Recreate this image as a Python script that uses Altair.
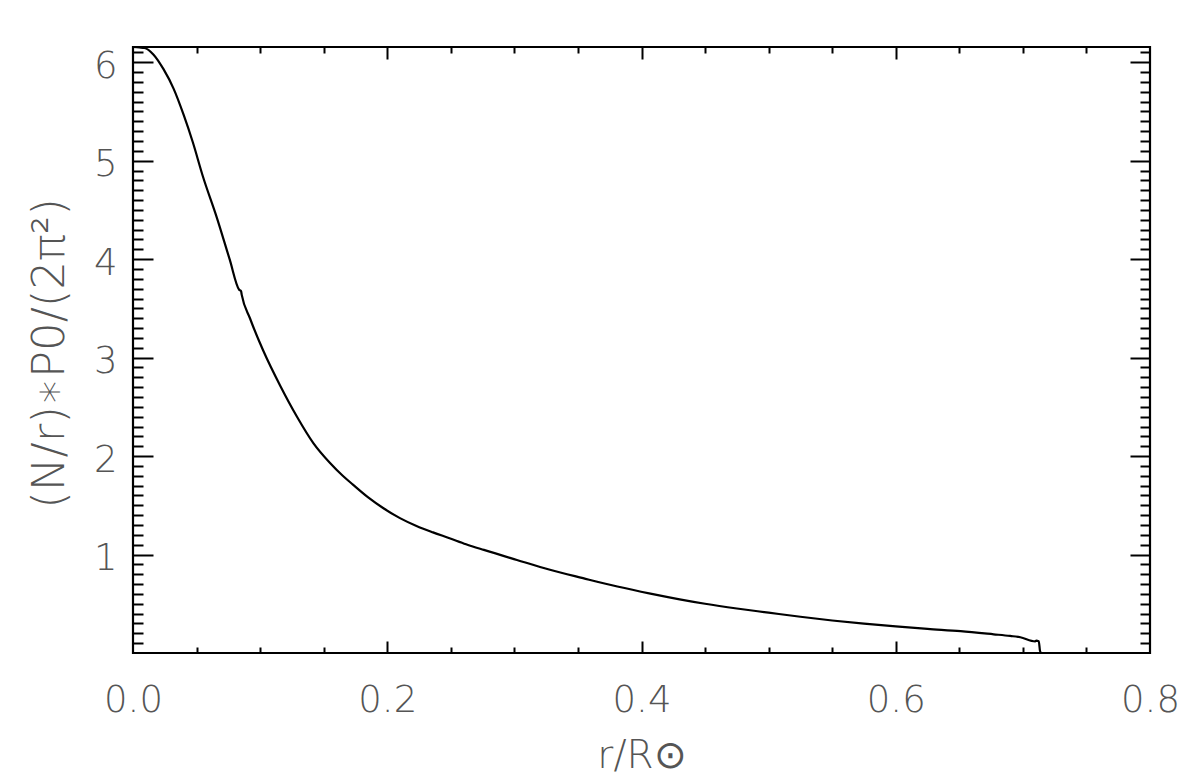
import altair as alt
import pandas as pd

# Curve
r_vals = [0.000, 0.005, 0.009, 0.016, 0.024, 0.032, 0.040, 0.047, 0.055,
          0.066, 0.076, 0.0835, 0.0850, 0.0855, 0.092, 0.1025, 0.116, 0.129,
          0.142, 0.155, 0.165, 0.173, 0.185, 0.197, 0.210, 0.223, 0.236, 0.249,
          0.262, 0.276, 0.302, 0.328, 0.354, 0.381, 0.407, 0.430, 0.450, 0.475,
          0.500, 0.525, 0.550, 0.575, 0.600, 0.625, 0.651, 0.677, 0.690, 0.698,
          0.7097, 0.7105, 0.7125, 0.7135, 0.7145, 0.716]
f_vals = [6.155, 6.150, 6.145, 6.08, 5.93, 5.73, 5.46, 5.19, 4.84,
          4.42, 4.00, 3.69, 3.675, 3.64, 3.40, 3.07, 2.71, 2.40,
          2.13, 1.93, 1.80, 1.71, 1.58, 1.47, 1.37, 1.29, 1.225, 1.166,
          1.105, 1.047, 0.945, 0.845, 0.760, 0.675, 0.603, 0.545, 0.500, 0.452,
          0.410, 0.368, 0.330, 0.298, 0.270, 0.245, 0.222, 0.190, 0.173, 0.160,
          0.118, 0.125, 0.12, 0.02, 0.0, 0.0]

x_major_labels = [0.0, 0.2, 0.4, 0.6, 0.8]
x_major_ticks = [0.2, 0.4, 0.6]
x_minor_ticks = [0.05, 0.10, 0.15, 0.25, 0.30, 0.35, 0.45, 0.50, 0.55, 0.65, 0.70, 0.75]
y_major = [1, 2, 3, 4, 5, 6]
y_minor = [round(0.1 * i, 1) for i in range(1, 62) if i % 10 != 0]

X_DOMAIN = [0, 0.8]
Y_DOMAIN = [0, 6.155]
W, H = 1017, 606
FONT = "DejaVu Sans"
TXT = "#555555"

df = pd.DataFrame({"r": r_vals, "f": f_vals})

xs = alt.Scale(domain=X_DOMAIN, nice=False, zero=False)
ys = alt.Scale(domain=Y_DOMAIN, nice=False, zero=False)


def tick_axis(orient, offset, values, size):
    return alt.Axis(orient=orient, offset=offset, values=values, tickSize=size,
                    tickWidth=2, tickColor="black", labels=False, domain=False,
                    grid=False, title="")


main = alt.Chart(df).mark_line(color="black", strokeWidth=2.2, interpolate="monotone").encode(
    x=alt.X("r:Q", scale=xs, axis=alt.Axis(
        orient="bottom", values=x_major_labels, format=".1f", ticks=False, tickSize=0,
        domain=False, grid=False, labelFlush=False, labelFont=FONT, labelFontSize=37,
        labelFontWeight=200, labelColor=TXT, labelPadding=29,
        title="r/R⊙", titleFont=FONT, titleFontSize=39, titleFontWeight=200,
        titleColor=TXT, titleBaseline="alphabetic", titleY=114)),
    y=alt.Y("f:Q", scale=ys, axis=alt.Axis(
        orient="left", values=y_major, format="d", ticks=False, tickSize=0,
        domain=False, grid=False, labelFlush=False, labelFont=FONT, labelFontSize=37,
        labelFontWeight=200, labelColor=TXT, labelPadding=16, labelOffset=4,
        title="(N/r)∗P0/(2π²)", titleFont=FONT, titleFontSize=45, titleFontWeight=200,
        titleColor=TXT, titleAngle=270, titleBaseline="middle", titleAlign="center",
        titleX=-84, titleY=306)),
)


def ghost(xa, ya):
    return alt.Chart(df).mark_line(opacity=0).encode(
        x=alt.X("r:Q", scale=xs, axis=xa),
        y=alt.Y("f:Q", scale=ys, axis=ya),
    )


l2 = ghost(tick_axis("top", -H, x_major_ticks, 12), tick_axis("right", -W, y_major, 20))
l3 = ghost(tick_axis("top", -H, x_minor_ticks, 6), tick_axis("right", -W, y_minor, 10))
l4 = ghost(tick_axis("bottom", -H, x_major_ticks, 12), tick_axis("left", -W, y_major, 20))
l5 = ghost(tick_axis("bottom", -H, x_minor_ticks, 6), tick_axis("left", -W, y_minor, 10))

chart = alt.layer(main, l2, l3, l4, l5).resolve_axis(
    x="independent", y="independent"
).properties(
    width=W, height=H,
    autosize=alt.AutoSizeParams(type="none"),
    padding={"left": 125, "top": 39, "right": 42, "bottom": 128},
).configure_view(stroke="black", strokeWidth=2.2)

chart.save("out.html", embed_options={"renderer": "svg", "actions": False})
